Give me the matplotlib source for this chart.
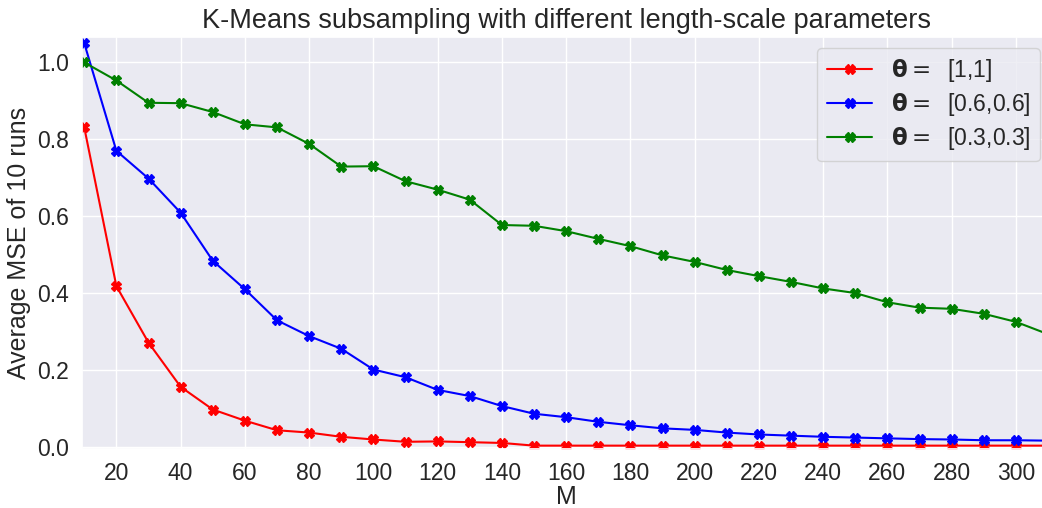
import numpy as np
import matplotlib
matplotlib.use("Agg")
import matplotlib.pyplot as plt
import seaborn as sns

M = list(range(10, 320, 10))

mse_1 = [0.831, 0.418, 0.271, 0.156, 0.097, 0.068, 0.043, 0.037, 0.026, 0.019,
         0.013, 0.014, 0.012, 0.010, 0.003, 0.003, 0.003, 0.003, 0.003, 0.003,
         0.003, 0.003, 0.003, 0.003, 0.003, 0.003, 0.003, 0.003, 0.003, 0.003, 0.003]
mse_06 = [1.050, 0.770, 0.698, 0.609, 0.484, 0.410, 0.329, 0.288, 0.255, 0.201,
          0.181, 0.148, 0.132, 0.106, 0.086, 0.077, 0.065, 0.056, 0.048, 0.044,
          0.037, 0.032, 0.029, 0.026, 0.024, 0.022, 0.020, 0.019, 0.017, 0.017, 0.016]
mse_03 = [1.000, 0.953, 0.895, 0.894, 0.871, 0.839, 0.831, 0.788, 0.729, 0.730,
          0.691, 0.669, 0.643, 0.577, 0.575, 0.561, 0.541, 0.522, 0.498, 0.481,
          0.460, 0.444, 0.429, 0.412, 0.400, 0.376, 0.362, 0.359, 0.346, 0.325, 0.293]

labels = [r'$\mathbf{\theta} =$  [1,1]', r'$\mathbf{\theta} =$  [0.6,0.6]', r'$\mathbf{\theta} =$  [0.3,0.3]']

sns.set_theme(style="darkgrid", font_scale=1.5)
plt.rcParams['font.family'] = ['Liberation Sans', 'DejaVu Sans']

fig = plt.figure(figsize=(10.42, 5.08), dpi=100)
# axes runs a little past the right edge of the figure
ax = fig.add_axes([0.0787, 0.1167, 0.9299, 0.8111])

ax.plot(M, mse_1, color='red', marker='X', markersize=7, linewidth=1.5, label=labels[0])
ax.plot(M, mse_06, color='blue', marker='X', markersize=7, linewidth=1.5, label=labels[1])
ax.plot(M, mse_03, color='green', marker='X', markersize=7, linewidth=1.5, label=labels[2])

ax.set_xlim(9.3, 310.9)
ax.set_ylim(-0.005, 1.067)
ax.set_xticks(range(20, 301, 20))
ax.set_yticks([0.0, 0.2, 0.4, 0.6, 0.8, 1.0])
ax.set_xlabel('M', labelpad=0)
ax.set_ylabel('Average MSE of 10 runs')
ax.set_title('K-Means subsampling with different length-scale parameters', fontsize=19.5)
ax.legend(loc='upper right', labelspacing=0.3)

fig.savefig('out.png', dpi=100)
